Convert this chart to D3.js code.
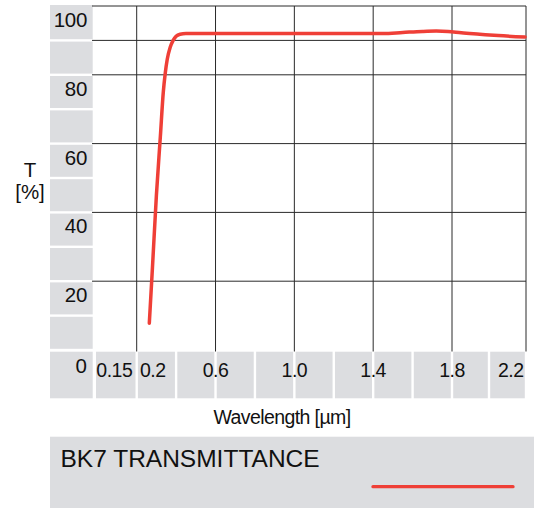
<!DOCTYPE html>
<html>
<head>
<meta charset="utf-8">
<script src="https://cdn.jsdelivr.net/npm/d3@7"></script>
<style>
  html, body { margin: 0; padding: 0; background: #fff; }
  svg { display: block; font-family: "Liberation Sans", Arial, Helvetica, sans-serif; }
</style>
</head>
<body>
<svg id="chart" width="534" height="508"></svg>
<script>
// BK7 transmittance curve (wavelength in um, T in %)
var wavelength = [0.264, 0.28, 0.30, 0.32, 0.335, 0.345, 0.355, 0.37, 0.385, 0.40, 0.42, 0.45,
	0.6, 1.0, 1.45, 1.55, 1.65, 1.72, 1.78, 1.85, 1.95, 2.05, 2.195];
var transmittance = [7.8, 24, 45, 62, 75, 80.5, 84.5, 88, 90, 91.2, 91.8, 92,
	92, 92, 92, 92.3, 92.6, 92.7, 92.6, 92.2, 91.8, 91.4, 91.0];

var xTickLabels = ["0.15", "0.2", "0.6", "1.0", "1.4", "1.8", "2.2"];
var xTickValues = [0.15, 0.2, 0.6, 1.0, 1.4, 1.8, 2.2];
var xGridValues = [0.2, 0.6, 1.0, 1.4, 1.8, 2.2];
var yTickValues = [100, 80, 60, 40, 20];
var yGridValues = [100, 90, 80, 60, 40, 20];
var legendLabel = "BK7 TRANSMITTANCE";

(function() {

	var svg = d3.select("#chart");
	var gray = "#dcdde0", red = "#ef3f37", ink = "#111";

	// plot frame (note: "top" is taken by window.top, so keep it local)
	var pLeft = 92, pRight = 526, pTop = 6, pBottom = 350;

	// axis is not quite linear in the original, so use a piecewise scale
	var x = d3.scaleLinear()
		.domain([0.1, 0.2, 1.8, 2.2])
		.range([pLeft, 136.7, 452, pRight]);
	var y = d3.scaleLinear()
		.domain([0, 100])
		.range([pBottom, pTop]);

	function tileTop(d) { return d == 100 ? y(d) - 1 : y(d) + 1.2; }

	// gray tiles on the left (one per 10 %)
	var tiles = svg.append("g").attr("class", "ytiles");
	tiles.selectAll("rect")
		.data(d3.range(100, 0, -10))
		.enter().append("rect")
		.attr("x", 50)
		.attr("width", pLeft + 0.7 - 50)
		.attr("y", tileTop)
		.attr("height", function(d) { return y(d - 10) - 1.2 - tileTop(d); })
		.attr("fill", gray);
	// zero tile
	tiles.append("rect")
		.attr("x", 50).attr("width", pLeft + 0.7 - 50)
		.attr("y", pBottom + 1.7).attr("height", 46.6)
		.attr("fill", gray);

	// gray tiles under the x axis (one per 0.2 um)
	var bounds = [x.invert(pLeft + 2.8)].concat(d3.range(0.2, 2.21, 0.2));
	svg.append("g").attr("class", "xtiles")
		.selectAll("rect")
		.data(d3.pairs(bounds))
		.enter().append("rect")
		.attr("x", function(d) { return x(d[0]) + 1.2; })
		.attr("width", function(d) { return x(d[1]) - x(d[0]) - 2.4; })
		.attr("y", pBottom + 1.7)
		.attr("height", 46.6)
		.attr("fill", gray);

	// grid
	var grid = svg.append("g").attr("class", "grid")
		.attr("stroke", "#2a2a2a")
		.attr("stroke-width", 1);
	grid.selectAll("line.h")
		.data(yGridValues)
		.enter().append("line")
		.attr("class", "h")
		.attr("x1", pLeft).attr("x2", pRight)
		.attr("y1", function(d) { return y(d); })
		.attr("y2", function(d) { return y(d); });
	grid.selectAll("line.v")
		.data(xGridValues)
		.enter().append("line")
		.attr("class", "v")
		.attr("y1", pTop).attr("y2", pBottom + 1.5)
		.attr("x1", function(d) { return x(d); })
		.attr("x2", function(d) { return x(d); });

	// y labels
	var ylab = svg.append("g").attr("class", "ylabels")
		.attr("font-size", 20.5).attr("fill", ink).attr("text-anchor", "end");
	ylab.selectAll("text")
		.data(yTickValues)
		.enter().append("text")
		.attr("x", 87)
		.attr("y", function(d) { return y(d) + 21; })
		.attr("letter-spacing", -0.3)
		.text(function(d) { return d; });
	ylab.append("text")
		.attr("x", 87).attr("y", pBottom + 22.7)
		.text("0");

	// x labels, the decimal point sits on the grid line
	svg.append("g").attr("class", "xlabels")
		.attr("font-size", 19.5).attr("fill", ink)
		.attr("letter-spacing", -0.5)
		.selectAll("text")
		.data(xTickValues)
		.enter().append("text")
		.attr("y", 377)
		.attr("x", function(d) {
			if (d == 0.2) return x(d) + 3.3;
			if (d == 2.2) return x(d) - 2.5;
			return x(d);
		})
		.attr("text-anchor", function(d) {
			if (d == 0.2) return "start";
			if (d == 2.2) return "end";
			return "middle";
		})
		.text(function(d, i) { return xTickLabels[i]; });

	// axis titles
	svg.append("text")
		.attr("x", 282).attr("y", 424)
		.attr("text-anchor", "middle")
		.attr("font-size", 19.5).attr("fill", ink)
		.attr("letter-spacing", -0.6)
		.text("Wavelength [\u00b5m]");
	svg.append("text")
		.attr("x", 30).attr("y", 177)
		.attr("text-anchor", "middle")
		.attr("font-size", 20.5).attr("fill", ink)
		.text("T");
	svg.append("text")
		.attr("x", 30).attr("y", 199)
		.attr("text-anchor", "middle")
		.attr("font-size", 20.5).attr("fill", ink)
		.text("[%]");

	// the curve
	var pts = wavelength.map(function(w, i) { return [w, transmittance[i]]; });
	var line = d3.line()
		.x(function(d) { return x(d[0]); })
		.y(function(d) { return y(d[1]); })
		.curve(d3.curveMonotoneX);
	svg.append("path")
		.datum(pts)
		.attr("d", line)
		.attr("fill", "none")
		.attr("stroke", red)
		.attr("stroke-width", 3.5)
		.attr("stroke-linecap", "round")
		.attr("stroke-linejoin", "round");

	// legend
	var legend = svg.append("g").attr("class", "legend");
	legend.append("rect")
		.attr("x", 50).attr("y", 436.7)
		.attr("width", 534 - 50).attr("height", 508 - 436.7)
		.attr("fill", gray);
	legend.append("text")
		.attr("x", 60.5).attr("y", 467)
		.attr("font-size", 24.5).attr("fill", ink)
		.text(legendLabel);
	legend.append("line")
		.attr("x1", 373).attr("x2", 513)
		.attr("y1", 486.7).attr("y2", 486.7)
		.attr("stroke", red)
		.attr("stroke-width", 3.3)
		.attr("stroke-linecap", "round");

})();
</script>
</body>
</html>
